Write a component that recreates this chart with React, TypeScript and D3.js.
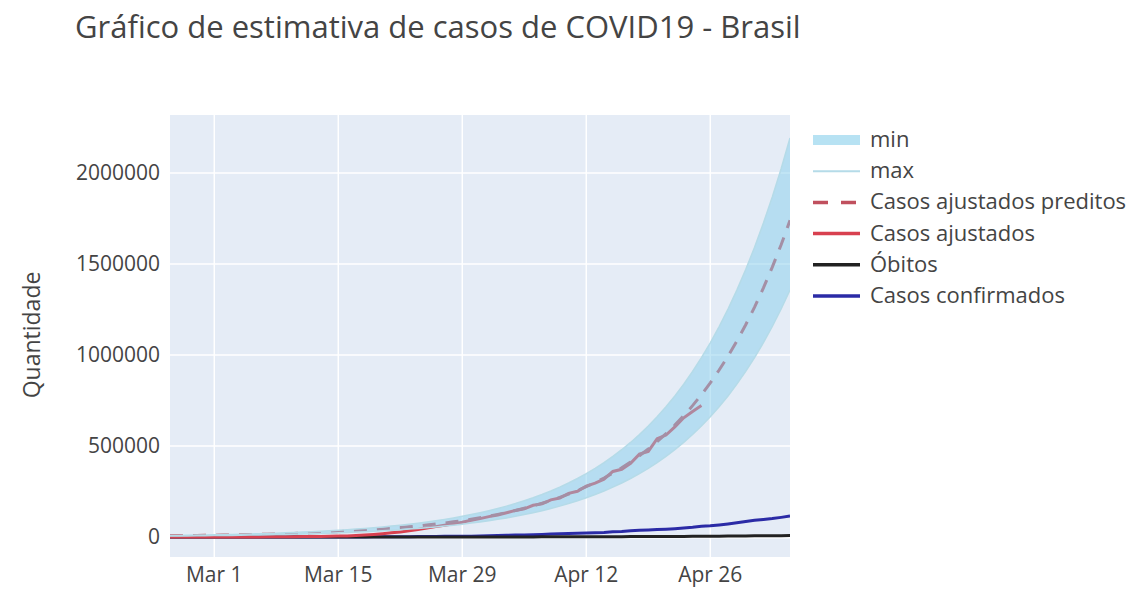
import React from "react";
import * as d3 from "d3";

const startDate = new Date(2020, 1, 25);
const endDate = new Date(2020, 4, 5);

const xTickDates = [new Date(2020, 2, 1), new Date(2020, 2, 15), new Date(2020, 2, 29), new Date(2020, 3, 12), new Date(2020, 3, 26)];
const xTickLabels = ["Mar 1", "Mar 15", "Mar 29", "Apr 12", "Apr 26"];
const yTicks = [0, 500000, 1000000, 1500000, 2000000];
const yTickLabels = ["0", "500000", "1000000", "1500000", "2000000"];

// daily values starting Feb 25
const confirmados = [0, 1, 1, 1, 2, 2, 2, 2, 3, 8, 13, 19, 25, 25, 34, 52, 77, 98, 121, 200, 234, 291, 428, 621, 904, 1128, 1546, 1891, 2201, 2433, 2915, 3417, 3904, 4256, 4579, 5717, 6836, 8044, 9056, 10360, 11130, 12161, 14034, 16170, 18092, 19638, 20727, 22169, 23430, 25262, 28320, 30425, 33682, 36599, 38654, 40581, 43079, 45757, 49492, 52995, 58509, 61888, 66501, 71886, 78162, 85380, 91589, 96559, 101147, 107780, 114715];
const obitos = [0, 0, 0, 0, 0, 0, 0, 0, 0, 0, 0, 0, 0, 0, 0, 0, 0, 0, 0, 0, 0, 1, 4, 7, 11, 18, 25, 34, 46, 59, 77, 92, 111, 136, 159, 201, 240, 324, 359, 445, 486, 564, 686, 819, 950, 1057, 1124, 1223, 1328, 1532, 1736, 1924, 2141, 2354, 2462, 2587, 2741, 2906, 3331, 3704, 4057, 4271, 4543, 5017, 5466, 5901, 6329, 6750, 7025, 7321, 7921];
const ajustados = [0, 0, 0, 0, 0, 0, 100, 200, 300, 300, 400, 600, 900, 1200, 1500, 2000, 2500, 3200, 4000, 5000, 6000, 8000, 11000, 14000, 18000, 23000, 28000, 34000, 41000, 49000, 57000, 64000, 72000, 81000, 92000, 101000, 112000, 121000, 133000, 146000, 155000, 174000, 182000, 204000, 214000, 240000, 251000, 280000, 296000, 318000, 360000, 372000, 405000, 455000, 470000, 540000, 560000, 605000, 655000, 690000, 722000];
const preditos = [6400, 7000, 7600, 8200, 8900, 9600, 10400, 11300, 12200, 13200, 14300, 15500, 16800, 18200, 19700, 21400, 23100, 25100, 27200, 29400, 31900, 34500, 37400, 40500, 43900, 47500, 51500, 55800, 60400, 65500, 70900, 76800, 83200, 90200, 97700, 105800, 114600, 124200, 134500, 145700, 157900, 171000, 185200, 200700, 217400, 235500, 255100, 276300, 299400, 324300, 351300, 380600, 412300, 446600, 483800, 524100, 567700, 615000, 666200, 721700, 781800, 847000, 917500, 993900, 1076700, 1166400, 1263500, 1369000, 1483000, 1606000, 1740000];
const minVals = [5000, 5500, 5900, 6400, 6900, 7500, 8100, 8800, 9500, 10300, 11200, 12100, 13100, 14200, 15400, 16700, 18000, 19600, 21200, 22900, 24900, 26900, 29200, 31600, 34200, 37100, 40200, 43500, 47100, 51100, 55300, 59900, 64900, 70400, 76200, 82500, 89400, 96900, 104900, 113600, 123200, 133400, 144500, 156500, 169600, 183700, 199000, 215500, 233500, 253000, 274000, 296900, 321600, 348300, 377400, 408800, 442800, 479700, 519600, 562900, 609800, 660700, 715700, 775200, 839800, 909800, 985500, 1067800, 1156700, 1252700, 1357200];
const maxVals = [8100, 8800, 9600, 10300, 11200, 12100, 13100, 14200, 15400, 16600, 18000, 19500, 21200, 22900, 24800, 27000, 29100, 31600, 34300, 37000, 40200, 43500, 47100, 51000, 55300, 59900, 64900, 70300, 76100, 82500, 89300, 96800, 104800, 113700, 123100, 133300, 144400, 156500, 169500, 183600, 199000, 215500, 233400, 252900, 273900, 296700, 321400, 348100, 377200, 408600, 442600, 479600, 519500, 562700, 609600, 660400, 715300, 774900, 839400, 909300, 985100, 1067200, 1156100, 1252300, 1356600, 1469700, 1592000, 1724900, 1868600, 2023600, 2192400];

const legendNames = ["min", "max", "Casos ajustados preditos", "Casos ajustados", "Óbitos", "Casos confirmados"];

const FONT = "'Open Sans', sans-serif";
const TXT = "#444";

export default function App() {
  const left = 170, right = 790, top = 115, bottom = 557;
  const dayOf = (i: number) => d3.timeDay.offset(startDate, i);
  const x = d3.scaleTime().domain([startDate, endDate]).range([left, right]);
  const y = d3.scaleLinear().domain([-110000, 2319000]).range([bottom, top]);

  const line = d3.line<number>().x((_, i) => x(dayOf(i))).y((v) => y(v));
  const area = d3.area<number>().x((_, i) => x(dayOf(i))).y0((_, i) => y(minVals[i])).y1((v) => y(v));

  const legendY = (i: number) => 140 + i * 31.2;

  return (
    <svg width={1140} height={600} style={{ position: "absolute", left: 0, top: 0, background: "#fff" }} fontFamily={FONT}>
      <defs>
        <clipPath id="plotclip">
          <rect x={left} y={top} width={right - left} height={bottom - top} />
        </clipPath>
      </defs>
      <rect x={left} y={top} width={right - left} height={bottom - top} fill="#e5ecf6" />
      {xTickDates.map((d, i) => (
        <line key={"gx" + i} x1={x(d)} x2={x(d)} y1={top} y2={bottom} stroke="#fff" strokeWidth={1.5} />
      ))}
      {yTicks.map((v, i) => (
        <line key={"gy" + i} x1={left} x2={right} y1={y(v)} y2={y(v)} stroke="#fff" strokeWidth={v === 0 ? 3 : 1.5} />
      ))}
      <g clipPath="url(#plotclip)" fill="none">
        <path d={line(confirmados) || ""} stroke="#2b2ba6" strokeWidth={3} />
        <path d={line(obitos) || ""} stroke="#222" strokeWidth={3} />
        <path d={line(ajustados) || ""} stroke="#d8404f" strokeWidth={3} />
        <path d={line(preditos) || ""} stroke="#c0505e" strokeWidth={3} strokeDasharray="13,10" />
        <path d={area(maxVals) || ""} fill="rgba(135,206,235,0.5)" stroke="none" />
        <path d={line(maxVals) || ""} stroke="#b5dbe8" strokeWidth={1.5} />
        <path d={line(minVals) || ""} stroke="#b5dbe8" strokeWidth={1.5} />
      </g>
      {xTickDates.map((d, i) => (
        <text key={"tx" + i} x={x(d)} y={582} textAnchor="middle" fontSize={21} fill={TXT}>{xTickLabels[i]}</text>
      ))}
      {yTicks.map((v, i) => (
        <text key={"ty" + i} x={160} y={y(v) + 7} textAnchor="end" fontSize={21} fill={TXT}>{yTickLabels[i]}</text>
      ))}
      <text transform="translate(40,335) rotate(-90)" textAnchor="middle" fontSize={23} fill={TXT}>Quantidade</text>
      <text x={75} y={38} fontSize={31} fill={TXT}>Gráfico de estimativa de casos de COVID19 - Brasil</text>
      <g>
        <rect x={813} y={legendY(0) - 5} width={47} height={10} fill="rgba(135,206,235,0.6)" />
        <line x1={813} x2={860} y1={legendY(1)} y2={legendY(1)} stroke="#b5dbe8" strokeWidth={2} />
        <line x1={813} x2={856} y1={legendY(2)} y2={legendY(2)} stroke="#c0505e" strokeWidth={3.5} strokeDasharray="15,13" />
        <line x1={813} x2={860} y1={legendY(3)} y2={legendY(3)} stroke="#d8404f" strokeWidth={3.5} />
        <line x1={813} x2={860} y1={legendY(4)} y2={legendY(4)} stroke="#222" strokeWidth={3.5} />
        <line x1={813} x2={860} y1={legendY(5)} y2={legendY(5)} stroke="#2b2ba6" strokeWidth={3.5} />
        {legendNames.map((n, i) => (
          <text key={"lg" + i} x={870} y={legendY(i) + 7} fontSize={22} fill={TXT}>{n}</text>
        ))}
      </g>
    </svg>
  );
}
